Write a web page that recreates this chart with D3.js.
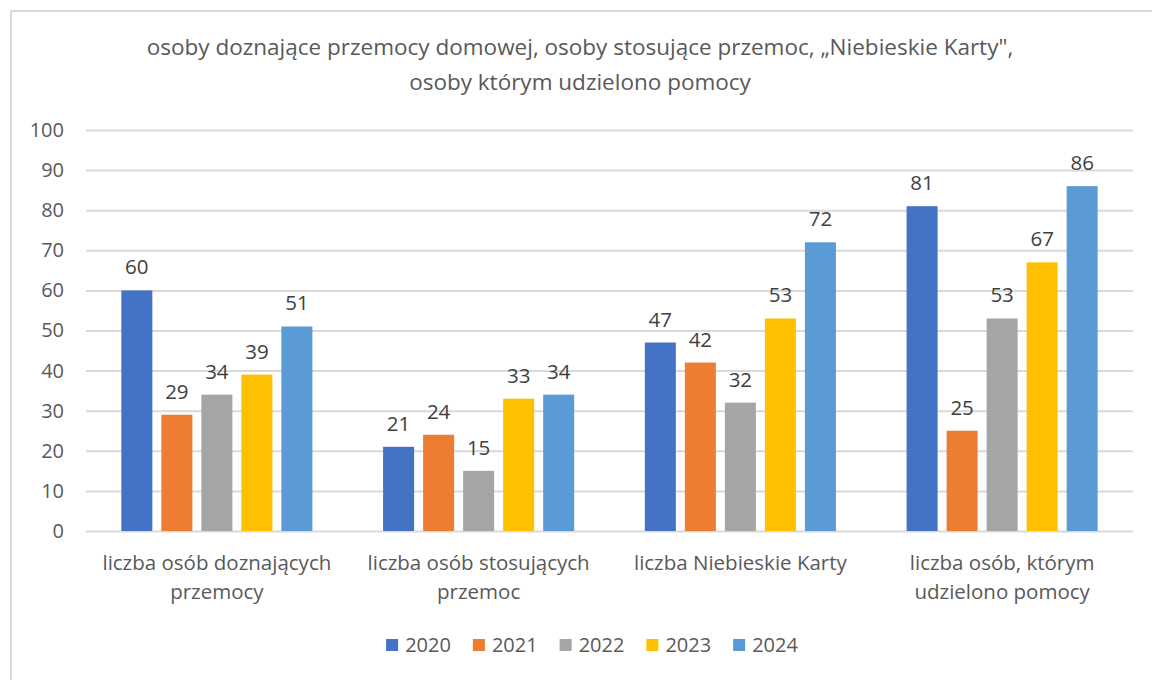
<!DOCTYPE html>
<html>
<head>
<meta charset="utf-8">
<script src="https://cdn.jsdelivr.net/npm/d3@7"></script>
<style>
  body { margin: 0; background: #fff; }
  text { font-family: "Open Sans", Lato, sans-serif; }
</style>
</head>
<body>
<svg id="chart" width="1152" height="680"></svg>
<script>
// data
const categories = [
    ["liczba osób doznających", "przemocy"],
    ["liczba osób stosujących", "przemoc"],
    ["liczba Niebieskie Karty"],
    ["liczba osób, którym", "udzielono pomocy"]
];
const years = ["2020", "2021", "2022", "2023", "2024"];
const values2020 = [60, 21, 47, 81];
const values2021 = [29, 24, 42, 25];
const values2022 = [34, 15, 32, 53];
const values2023 = [39, 33, 53, 67];
const values2024 = [51, 34, 72, 86];
const yTicks = [0, 10, 20, 30, 40, 50, 60, 70, 80, 90, 100];
const titleLines = [
    "osoby doznające przemocy domowej, osoby stosujące przemoc, „Niebieskie Karty\",",
    "osoby którym udzielono pomocy"
];

const series = [values2020, values2021, values2022, values2023, values2024];
const colors = ["#4472c4", "#ed7d31", "#a5a5a5", "#ffc000", "#5b9bd5"];

const svg = d3.select("#chart");

// chart border (only top/left visible in the picture)
svg.append("rect")
    .attr("x", 11).attr("y", 11)
    .attr("width", 1160).attr("height", 700)
    .attr("fill", "none")
    .attr("stroke", "#d9d9d9")
    .attr("stroke-width", 2);

var margin = {left: 86, right: 1133, top: 130, bottom: 531};

var y = d3.scaleLinear().domain([0, 100]).range([margin.bottom, margin.top]);

var catIdx = categories.map((c, i) => i);
var x0 = d3.scaleBand().domain(catIdx).range([margin.left, margin.right])
    .paddingInner(0.27).paddingOuter(0.135);
var x1 = d3.scaleBand().domain(years).range([0, x0.bandwidth()])
    .paddingInner(0.225).paddingOuter(0);

// title
svg.append("g").selectAll("text")
    .data(titleLines).enter()
    .append("text")
    .attr("x", 580)
    .attr("y", (d, i) => 55 + i * 35)
    .attr("text-anchor", "middle")
    .attr("fill", "#595959")
    .style("font-size", "22.5px")
    .text(d => d);

// gridlines + y labels
var yAxis = d3.axisLeft(y).tickValues(yTicks).tickSize(-(margin.right - margin.left)).tickPadding(22);
var gy = svg.append("g")
    .attr("transform", "translate(" + margin.left + ",0)")
    .call(yAxis);
gy.select(".domain").remove();
gy.selectAll(".tick line").attr("stroke", "#d9d9d9").attr("stroke-width", 2);
gy.selectAll(".tick text")
    .attr("fill", "#595959")
    .style("font-size", "20px")
    .style("font-family", "'Open Sans', Lato, sans-serif");

// bars
var groups = svg.append("g").selectAll("g")
    .data(years).enter()
    .append("g")
    .attr("fill", (d, i) => colors[i]);

groups.selectAll("rect")
    .data((yr, si) => series[si].map((v, ci) => ({yr: yr, v: v, ci: ci})))
    .enter()
    .append("rect")
    .attr("x", d => x0(d.ci) + x1(d.yr))
    .attr("y", d => y(d.v))
    .attr("width", x1.bandwidth())
    .attr("height", d => y(0) - y(d.v));

// data labels
groups.selectAll("text")
    .data((yr, si) => series[si].map((v, ci) => ({yr: yr, v: v, ci: ci})))
    .enter()
    .append("text")
    .attr("x", d => x0(d.ci) + x1(d.yr) + x1.bandwidth() / 2)
    .attr("y", d => y(d.v) - 16)
    .attr("text-anchor", "middle")
    .attr("fill", "#404040")
    .style("font-size", "20.5px")
    .text(d => d.v);

// category labels
var cat = svg.append("g").selectAll("text")
    .data(categories).enter()
    .append("text")
    .attr("x", (d, i) => x0(i) + x0.bandwidth() / 2)
    .attr("y", 570)
    .attr("text-anchor", "middle")
    .attr("fill", "#595959")
    .style("font-size", "20.5px");
cat.selectAll("tspan")
    .data(d => d).enter()
    .append("tspan")
    .attr("x", function() { return d3.select(this.parentNode).attr("x"); })
    .attr("dy", (d, i) => i === 0 ? 0 : 29)
    .text(d => d);

// legend
var legend = svg.append("g").attr("transform", "translate(0,652)");
var items = legend.selectAll("g")
    .data(years).enter()
    .append("g");
items.append("rect")
    .attr("y", -13)
    .attr("width", 12).attr("height", 12)
    .attr("fill", (d, i) => colors[i]);
items.append("text")
    .attr("x", 19)
    .attr("fill", "#595959")
    .style("font-size", "20px")
    .text(d => d);
var pos = 0, offsets = [];
items.each(function() {
    offsets.push(pos);
    pos += 19 + this.querySelector("text").getComputedTextLength() + 22;
});
var total = pos - 22;
var start = 592 - total / 2;
items.attr("transform", (d, i) => "translate(" + (start + offsets[i]) + ",0)");
</script>
</body>
</html>
